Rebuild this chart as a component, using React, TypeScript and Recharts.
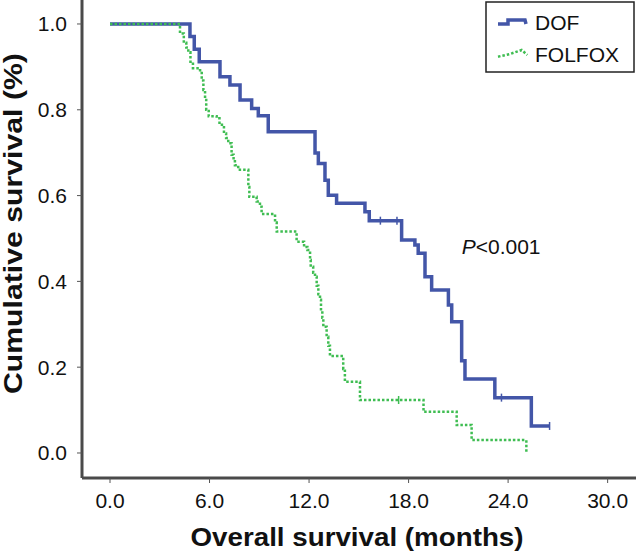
import React from 'react';
import { LineChart, Line, XAxis, YAxis, Legend, Customized, ReferenceLine } from 'recharts';

const FONT = '"Liberation Sans", Arial, Helvetica, sans-serif';

// DOF arm: time (months), cumulative survival, censored flag
const DOF_T = [0, 4.82, 5.08, 5.38, 6.63, 7.23, 7.84, 8.54, 8.94, 9.54, 12.36, 12.56, 12.96, 13.16, 13.66, 15.37, 15.63, 16.3, 17.3, 17.58, 18.38, 18.58, 18.99, 19.39, 20.4, 20.6, 21.2, 21.4, 23.2, 23.6, 25.4, 26.5];
const DOF_S = [1, 0.971, 0.941, 0.912, 0.877, 0.858, 0.823, 0.803, 0.786, 0.749, 0.699, 0.675, 0.636, 0.601, 0.582, 0.5625, 0.5415, 0.5415, 0.5415, 0.4965, 0.485, 0.4655, 0.411, 0.38, 0.345, 0.306, 0.215, 0.1725, 0.129, 0.129, 0.063, 0.063];
const DOF_C = [0, 0, 0, 0, 0, 0, 0, 0, 0, 0, 0, 0, 0, 0, 0, 0, 0, 1, 1, 0, 0, 0, 0, 0, 0, 0, 0, 0, 0, 1, 0, 1];

// FOLFOX arm
const FOL_T = [0, 4.22, 4.45, 4.6, 4.72, 4.85, 5.0, 5.43, 5.53, 5.63, 5.73, 5.8, 5.95, 6.43, 6.6, 6.87, 7.0, 7.13, 7.33, 7.45, 7.53, 7.73, 8.34, 8.4, 8.84, 9.04, 9.14, 9.95, 10.05, 11.25, 11.7, 11.9, 12.06, 12.1, 12.25, 12.36, 12.46, 12.56, 12.66, 12.72, 12.8, 12.86, 13.06, 13.16, 13.26, 14.06, 14.16, 15.07, 17.4, 18.9, 20.9, 21.8, 25.1];
const FOL_S = [1, 0.978, 0.956, 0.945, 0.934, 0.912, 0.897, 0.889, 0.868, 0.846, 0.823, 0.8, 0.785, 0.78, 0.765, 0.745, 0.734, 0.722, 0.695, 0.683, 0.671, 0.66, 0.62, 0.597, 0.586, 0.574, 0.557, 0.537, 0.516, 0.4925, 0.48, 0.473, 0.45, 0.434, 0.42, 0.411, 0.39, 0.37, 0.357, 0.335, 0.315, 0.294, 0.271, 0.25, 0.226, 0.196, 0.166, 0.1235, 0.1235, 0.096, 0.065, 0.03, 0.0];
const FOL_C = FOL_T.map((t) => (t === 17.4 ? 1 : 0));

const X_TICKS = [0, 6, 12, 18, 24, 30];
const Y_TICKS = [0, 0.2, 0.4, 0.6, 0.8, 1.0];
const X_DOMAIN = [-1.688, 31.71];
const Y_DOMAIN = [-0.0583, 1.0559];

const SERIES_NAMES = ['DOF', 'FOLFOX'];
const BLUE = '#4356a8';
const GREEN = '#3fbd52';

const dofData = DOF_T.map((t, i) => ({ t, s: DOF_S[i], c: DOF_C[i] }));
const folData = FOL_T.map((t, i) => ({ t, s: FOL_S[i], c: FOL_C[i] }));

const censorDot = (color: string) => (props: any) => {
  const { cx, cy, payload, index } = props;
  if (!payload || !payload.c) return <g key={`n${index}`} />;
  return (
    <g key={`c${index}`}>
      <line x1={cx} x2={cx} y1={cy - 4} y2={cy + 4} stroke={color} strokeWidth={1.5} />
    </g>
  );
};

const KMLegend = () => (
  <svg width={150} height={72} style={{ display: 'block' }}>
    <rect x={1} y={1} width={148} height={70} fill="#fff" stroke="#222" strokeWidth={1.5} />
    <polyline points="13,23 23,23 23,19 40,19 41,23" fill="none" stroke={BLUE} strokeWidth={3.5} />
    <polyline points="13,55.7 25,53 36.7,49 42.3,54" fill="none" stroke={GREEN} strokeWidth={2.5} strokeDasharray="2.5 2" />
    <text x={50} y={28.5} fontFamily={FONT} fontSize={21} fill="#111">{SERIES_NAMES[0]}</text>
    <text x={50} y={60.7} fontFamily={FONT} fontSize={21} fill="#111">{SERIES_NAMES[1]}</text>
  </svg>
);

const Titles = () => (
  <g>
    <text x={357} y={546} textAnchor="middle" fontFamily={FONT} fontWeight="bold" fontSize={25}
      textLength={333} lengthAdjust="spacingAndGlyphs" fill="#111">Overall survival (months)</text>
    <text transform="rotate(-90)" x={-223.6} y={22} textAnchor="middle" fontFamily={FONT} fontWeight="bold"
      fontSize={25} textLength={341} lengthAdjust="spacingAndGlyphs" fill="#111">Cumulative survival (%)</text>
    <text x={461.7} y={254} fontFamily={FONT} fontSize={21} fill="#111">
      <tspan fontStyle="italic">P</tspan>&lt;0.001
    </text>
  </g>
);

const tickStyle = { fontFamily: FONT, fontSize: 21, fill: '#111' };

export default function App() {
  return (
    <div style={{ position: 'absolute', left: 0, top: 0, width: 636, height: 553, background: '#fff' }}>
      <LineChart width={636} height={553} margin={{ top: 0, right: 0, bottom: 0, left: 0 }}>
        <XAxis
          dataKey="t"
          type="number"
          domain={X_DOMAIN}
          ticks={X_TICKS}
          allowDataOverflow
          height={75}
          tickSize={5}
          tickMargin={10}
          tick={tickStyle}
          tickFormatter={(v: number) => v.toFixed(1)}
          axisLine={{ stroke: '#4a4a4a', strokeWidth: 3 }}
          tickLine={{ stroke: '#555' }}
        />
        <YAxis
          type="number"
          domain={Y_DOMAIN}
          ticks={Y_TICKS}
          allowDataOverflow
          width={82}
          tickSize={5}
          tickMargin={10}
          tick={tickStyle}
          tickFormatter={(v: number) => v.toFixed(1)}
          axisLine={{ stroke: '#4a4a4a', strokeWidth: 3 }}
          tickLine={{ stroke: '#555' }}
        />
        <Line data={dofData} dataKey="s" name={SERIES_NAMES[0]} type="stepAfter" stroke={BLUE} strokeWidth={3.5}
          dot={censorDot(BLUE)} activeDot={false} isAnimationActive={false} />
        <Line data={folData} dataKey="s" name={SERIES_NAMES[1]} type="stepAfter" stroke={GREEN} strokeWidth={2.5}
          strokeDasharray="2.5 2" dot={censorDot(GREEN)} activeDot={false} isAnimationActive={false} />
        <ReferenceLine x={X_DOMAIN[0]} stroke="#dcdcdc" strokeWidth={1} ifOverflow="visible" />
        <ReferenceLine y={Y_DOMAIN[0]} stroke="#dcdcdc" strokeWidth={1} ifOverflow="visible" />
        <Legend
          layout="vertical"
          verticalAlign="middle"
          align="center"
          content={() => <KMLegend />}
          wrapperStyle={{ left: 485, top: 1, width: 150, height: 72, right: 'auto', bottom: 'auto' }}
        />
        <Customized component={Titles} />
      </LineChart>
    </div>
  );
}
